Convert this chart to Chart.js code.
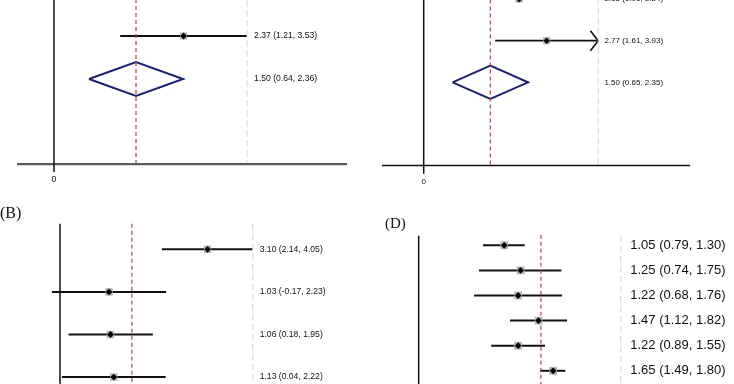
<!DOCTYPE html>
<html><head><meta charset="utf-8">
<script src="https://cdn.jsdelivr.net/npm/chart.js@4.4.0/dist/chart.umd.min.js"></script>
<style>
html,body{margin:0;padding:0;background:#fff;}
#wrap{position:relative;width:734px;height:384px;overflow:hidden;background:#fff;}
.p{position:absolute;width:367px;height:192px;}
</style></head><body>
<div id="wrap">
<div class="p" style="left:0;top:0"><canvas id="cA" width="367" height="192"></canvas></div>
<div class="p" style="left:367px;top:0"><canvas id="cC" width="367" height="192"></canvas></div>
<div class="p" style="left:0;top:192px"><canvas id="cB" width="367" height="192"></canvas></div>
<div class="p" style="left:367px;top:192px"><canvas id="cD" width="367" height="192"></canvas></div>
</div>
<script>
// ---- Panel A (top-left) ----
const aEst = [2.37];
const aLow = [1.21];
const aHigh = [3.53];
const aPooled = [1.50, 0.64, 2.36]; // estimate, low, high
// ---- Panel C (top-right) ----
const cEst = [2.15, 2.77];
const cLow = [1.06, 1.61];
const cHigh = [3.24, 3.93];
const cPooled = [1.50, 0.65, 2.35];
// ---- Panel B (bottom-left) ----
const bEst = [3.10, 1.03, 1.06, 1.13];
const bLow = [2.14, -0.17, 0.18, 0.04];
const bHigh = [4.05, 2.23, 1.95, 2.22];
// ---- Panel D (bottom-right) ----
const dEst = [1.05, 1.25, 1.22, 1.47, 1.22, 1.65];
const dLow = [0.79, 0.74, 0.68, 1.12, 0.89, 1.49];
const dHigh = [1.30, 1.75, 1.76, 1.82, 1.55, 1.80];
// reference (pooled) lines per panel A, C, B, D
const refValues = [1.50, 1.50, 1.51, 1.50];
const panelLabels = ['(B)', '(D)'];
const zeroTick = ['0'];

const fmt = (e, l, h) => `${e.toFixed(2)} (${l.toFixed(2)}, ${h.toFixed(2)})`;

const textPlugin = {
  id: 'texts',
  afterDatasetsDraw(chart, args, opts) {
    const ctx = chart.ctx, xs = chart.scales.x, ys = chart.scales.y;
    ctx.save();
    (opts.items || []).forEach(t => {
      ctx.font = t.font;
      ctx.fillStyle = t.color || '#111';
      ctx.textAlign = t.align || 'left';
      ctx.textBaseline = 'middle';
      ctx.fillText(t.text, xs.getPixelForValue(t.x), ys.getPixelForValue(t.y));
    });
    ctx.restore();
  }
};

function seg(x1, y1, x2, y2, color, width, dash, order) {
  return { data: [{x: x1, y: y1}, {x: x2, y: y2}], showLine: true, borderColor: color,
    borderWidth: width, borderDash: dash || [], pointRadius: 0, order: order || 3, borderCapStyle: 'butt' };
}
function poly(pts, color, width) {
  return { data: pts.map(p => ({x: p[0], y: p[1]})), showLine: true, borderColor: color,
    borderWidth: width, pointRadius: 0, order: 3, tension: 0, borderJoinStyle: 'miter' };
}
function markers(est, rows, sq, pr) {
  return [
    { data: est.map((v, i) => ({x: v, y: rows[i]})), pointStyle: 'rect', pointRadius: sq,
      backgroundColor: '#b4b4b4', borderWidth: 0, order: 2 },
    { data: est.map((v, i) => ({x: v, y: rows[i]})), pointStyle: 'rectRot', pointRadius: pr,
      backgroundColor: '#000', borderColor: '#000', borderWidth: 0, order: 1 }
  ];
}
function makeChart(id, L, datasets, items) {
  new Chart(document.getElementById(id), {
    type: 'scatter',
    data: { datasets },
    options: {
      responsive: false, animation: false, events: [],
      layout: { padding: 0, autoPadding: false },
      plugins: { legend: { display: false }, tooltip: { enabled: false }, title: { display: false },
        texts: { items } },
      scales: {
        x: { type: 'linear', min: L.x[0], max: L.x[1], display: false },
        y: { type: 'linear', min: L.y[0], max: L.y[1], reverse: true, display: false }
      }
    },
    plugins: [textPlugin]
  });
}
const RED = '#a34a48', GREY = '#d6d6d6', NAVY = '#1c1f7a';
const SANS = '"Liberation Sans", Arial, sans-serif';
const SERIF = '"Liberation Serif", "Times New Roman", serif';

// ---------- Panel A ----------
(function () {
  const L = { x: [-0.9877, 5.725], y: [0.1628, 4.628] };
  const axisRow = 3.98, greyX = 3.53, labelX = 3.66, f = '8.6px ' + SANS;
  const rows = aEst.map((_, i) => i + 1);
  const pr = aEst.length + 1, h = 0.395;
  const ds = [
    seg(0, -1, 0, 4.16, '#111', 1.5),
    seg(-0.677, axisRow, 5.36, axisRow, '#5a5a5a', 2.2),
    seg(refValues[0], -1, refValues[0], axisRow, RED, 1.2, [4, 3]),
    seg(greyX, -1, greyX, axisRow, GREY, 1, [7, 3]),
  ];
  aEst.forEach((v, i) => ds.push(seg(aLow[i], rows[i], aHigh[i], rows[i], '#111', 2)));
  ds.push(poly([[aPooled[1], pr], [aPooled[0], pr - h], [aPooled[2], pr], [aPooled[0], pr + h], [aPooled[1], pr]], NAVY, 2));
  ds.push(...markers(aEst, rows, 5, 3.4));
  const items = aEst.map((v, i) => ({ text: fmt(v, aLow[i], aHigh[i]), x: labelX, y: rows[i], font: f }));
  items.push({ text: fmt(aPooled[0], aPooled[1], aPooled[2]), x: labelX, y: pr, font: f });
  items.push({ text: zeroTick[0], x: 0, y: 4.35, font: f, align: 'center' });
  makeChart('cA', L, ds, items);
})();

// ---------- Panel C ----------
(function () {
  const L = { x: [-1.277, 6.989], y: [0.0216, 4.637] };
  const axisRow = 4.0, greyX = 3.93, labelX = 4.07, f = '8px ' + SANS;
  const rows = cEst.map((_, i) => i);
  const pr = cEst.length, h = 0.4;
  const ds = [
    seg(0, -1, 0, 4.2, '#111', 1.5),
    seg(-0.94, axisRow, 6.0, axisRow, '#111', 1.6),
    seg(refValues[1], -1, refValues[1], axisRow, RED, 1.2, [4, 3]),
    seg(greyX, -1, greyX, axisRow, GREY, 1, [7, 3]),
  ];
  cEst.forEach((v, i) => {
    const hi = Math.min(cHigh[i], greyX);
    ds.push(seg(cLow[i], rows[i], hi, rows[i], '#111', 1.8));
    if (cHigh[i] >= greyX) {
      ds.push(poly([[greyX - 0.175, rows[i] - 0.24], [greyX, rows[i]], [greyX - 0.175, rows[i] + 0.24]], '#111', 1.6));
    }
  });
  ds.push(poly([[cPooled[1], pr], [cPooled[0], pr - h], [cPooled[2], pr], [cPooled[0], pr + h], [cPooled[1], pr]], NAVY, 2));
  ds.push(...markers(cEst, rows, 5, 3.3));
  const items = cEst.map((v, i) => ({ text: fmt(v, cLow[i], cHigh[i]), x: labelX, y: rows[i], font: f }));
  items.push({ text: fmt(cPooled[0], cPooled[1], cPooled[2]), x: labelX, y: pr, font: f });
  items.push({ text: zeroTick[0], x: 0, y: 4.397, font: f, align: 'center' });
  makeChart('cC', L, ds, items);
})();

// ---------- Panel B ----------
(function () {
  const L = { x: [-1.2605, 6.4496], y: [-0.345, 4.162] };
  const top = 0.4, greyX = 4.05, labelX = 4.195, f = '8.6px ' + SANS;
  const rows = bEst.map((_, i) => i + 1);
  const ds = [
    seg(0, top, 0, 6, '#111', 1.5),
    seg(refValues[2], top, refValues[2], 6, RED, 1.2, [4, 3]),
    seg(greyX, top, greyX, 6, GREY, 1, [7, 3]),
  ];
  bEst.forEach((v, i) => ds.push(seg(bLow[i], rows[i], bHigh[i], rows[i], '#111', 2)));
  ds.push(...markers(bEst, rows, 5.2, 3.4));
  const items = bEst.map((v, i) => ({ text: fmt(v, bLow[i], bHigh[i]), x: labelX, y: rows[i], font: f }));
  items.push({ text: panelLabels[0], x: L.x[0], y: 0.164, font: '16px ' + SERIF });
  makeChart('cB', L, ds, items);
})();

// ---------- Panel D ----------
(function () {
  const L = { x: [-0.634, 3.869], y: [-1.1235, 6.526] };
  const top = 0.62, greyX = 2.48, labelX = 2.596, f = '13px ' + SANS;
  const rows = dEst.map((_, i) => i + 1);
  const ds = [
    seg(0, top, 0, 8, '#111', 1.5),
    seg(refValues[3], 0.58, refValues[3], 8, RED, 1.2, [4, 3]),
    seg(greyX, 0.62, greyX, 8, GREY, 1, [7, 3]),
  ];
  dEst.forEach((v, i) => ds.push(seg(dLow[i], rows[i], dHigh[i], rows[i], '#111', 2)));
  ds.push(...markers(dEst, rows, 5.5, 3.4));
  const items = dEst.map((v, i) => ({ text: fmt(v, dLow[i], dHigh[i]), x: labelX, y: rows[i], font: f }));
  items.push({ text: panelLabels[1], x: -0.4135, y: 0.14, font: '15px ' + SERIF });
  makeChart('cD', L, ds, items);
})();
</script>
</body></html>
